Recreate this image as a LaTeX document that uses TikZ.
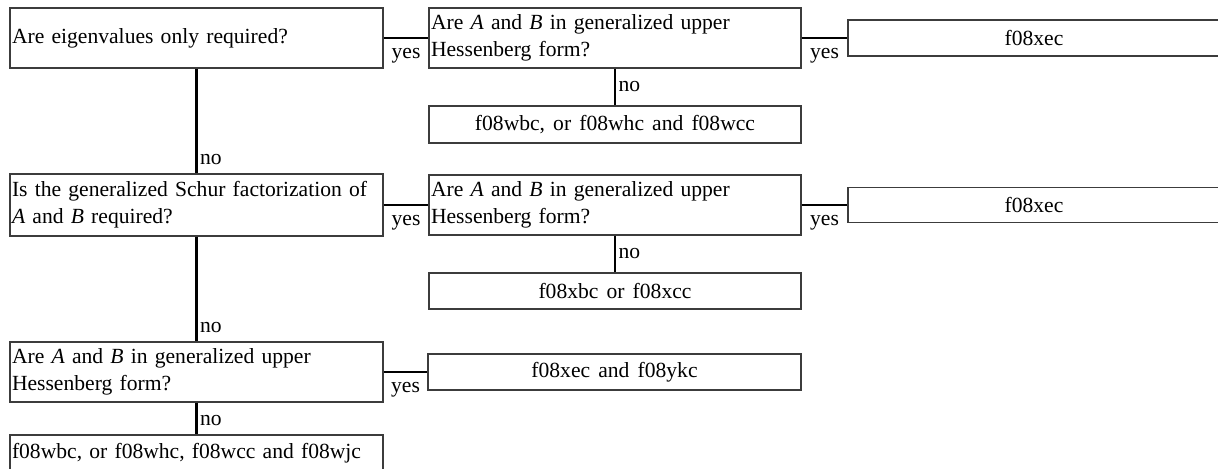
\documentclass[tikz,border=0pt]{standalone}
\usepackage{fontspec}
\setmainfont{Liberation Serif}[WordSpace=1.5]
\newcommand\dfont{\fontsize{10.8}{13.5}\selectfont}
\definecolor{boxgray}{RGB}{60,60,60}
\begin{document}
\begin{tikzpicture}[x=0.5pt,y=-0.5pt,
  lbox/.style={draw=boxgray, line width=0.6pt, inner xsep=1pt, inner ysep=0pt,
    text width=184.5pt, align=left, font=\dfont},
  cbox/.style={draw=boxgray, line width=0.6pt, inner xsep=1pt, inner ysep=0pt,
    minimum width=186pt, align=center, font=\dfont},
  conn/.style={line width=1.1pt, black},
  lbl/.style={inner sep=0pt, font=\dfont},
  yeslbl/.style={lbl, midway, anchor=base, yshift=-10pt},
  nolbl/.style={lbl, anchor=west, xshift=1.2pt}]
\useasboundingbox (0,0) rectangle (1218,468);
\clip (0,0) rectangle (1218,468);
% row 1
\node[lbox, minimum height=30pt] (b1) at (196.5,38) {Are eigenvalues only required?};
\node[lbox, text width=184pt, minimum height=30pt] (b2) at (615,38)
  {Are \textit{A} and \textit{B} in generalized upper\\Hessenberg form?};
\node[cbox, minimum height=18.5pt] (b3) at (615,124.5) {f08wbc, or f08whc and f08wcc};
\node[cbox, minimum height=18pt] (x1) at (1034,38) {f08xec};
% row 2
\node[lbox, minimum height=31pt] (b4) at (196.5,205)
  {Is the generalized Schur factorization of\\\textit{A} and \textit{B} required?};
\node[lbox, text width=184pt, minimum height=30pt] (b5) at (615,205)
  {Are \textit{A} and \textit{B} in generalized upper\\Hessenberg form?};
\node[cbox, minimum height=18pt] (b6) at (615,291) {f08xbc or f08xcc};
\node[cbox, minimum height=17.5pt] (x2) at (1034,205) {f08xec};
% row 3
\node[lbox, minimum height=30pt] (b7) at (196.5,372)
  {Are \textit{A} and \textit{B} in generalized upper\\Hessenberg form?};
\node[lbox, minimum height=18pt] (b8) at (196.5,453)
  {f08wbc, or f08whc, f08wcc and f08wjc};
\node[cbox, minimum width=186.5pt, minimum height=18pt] (b9) at (614.5,372) {f08xec and f08ykc};
% connectors
\draw[conn] (b1.east) -- node[yeslbl] {yes} (b2.west);
\draw[conn] (b2.east) -- node[yeslbl] {yes} (x1.west);
\draw[conn] (b2.south) -- node[nolbl, pos=0.5] {no} (b3.north);
\draw[conn] (b1.south) -- node[nolbl, pos=0.868] {no} (b4.north);
\draw[conn] (b4.east) -- node[yeslbl] {yes} (b5.west);
\draw[conn] (b5.east) -- node[yeslbl] {yes} (x2.west);
\draw[conn] (b5.south) -- node[nolbl, pos=0.5] {no} (b6.north);
\draw[conn] (b4.south) -- node[nolbl, pos=0.863] {no} (b7.north);
\draw[conn] (b7.east) -- node[yeslbl] {yes} (b9.west);
\draw[conn] (b7.south) -- node[nolbl, pos=0.57] {no} (b8.north);
\end{tikzpicture}
\end{document}
